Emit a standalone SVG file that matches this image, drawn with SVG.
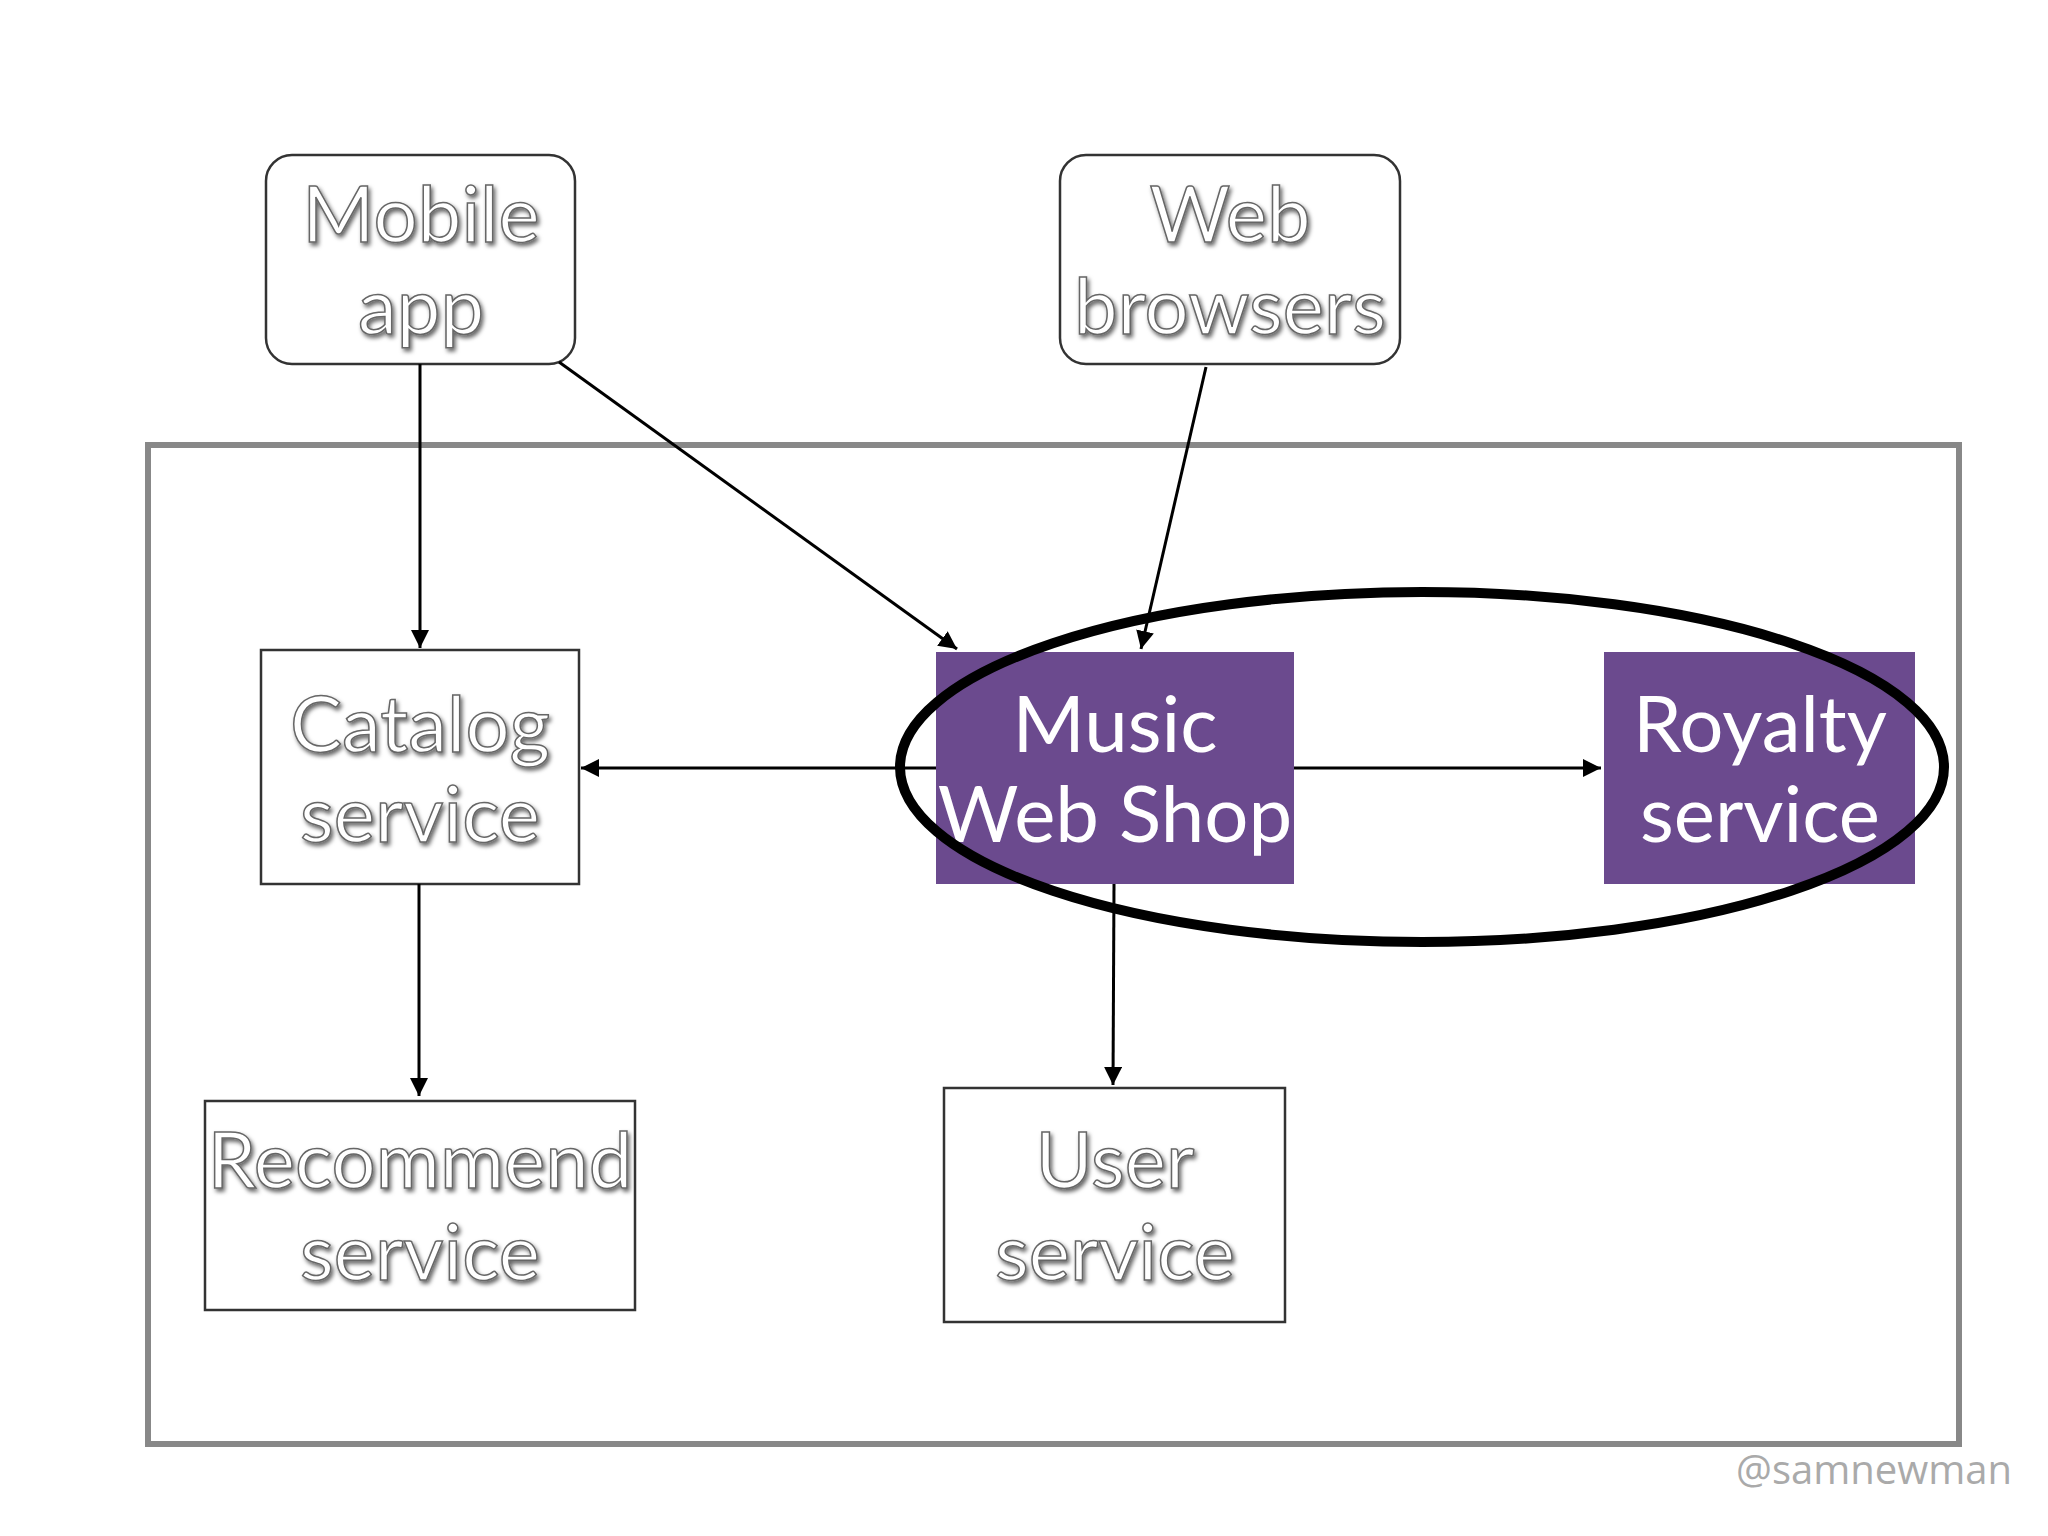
<svg xmlns="http://www.w3.org/2000/svg" width="2048" height="1536" viewBox="0 0 2048 1536">
<style>
.n{fill:#fff;stroke:#333;stroke-width:2.5}
.p{fill:#6b4a8e;stroke:none}
.t{font-family:Lato,"Open Sans",sans-serif;font-size:78px;text-anchor:middle;fill:#fff;stroke:#666;stroke-width:1.5;filter:url(#sh)}
.tp{font-family:Lato,"Open Sans",sans-serif;font-size:78px;text-anchor:middle;fill:#fff}
.c{stroke:#000;stroke-width:3;fill:none;marker-end:url(#a)}
</style>
<defs>
<marker id="a" viewBox="0 0 10 10" refX="10" refY="5" markerWidth="6" markerHeight="6" orient="auto"><path d="M0,0L10,5L0,10z" fill="#000"/></marker>
<filter id="sh" x="-10%" y="-20%" width="130%" height="150%"><feDropShadow dx="2" dy="3" stdDeviation="2" flood-color="#000" flood-opacity="0.6"/></filter>
</defs>
<rect width="2048" height="1536" fill="#fff"/>
<rect x="148" y="445" width="1811" height="999" fill="none" stroke="#888" stroke-width="6"/>
<g id="mobile"><rect class="n" x="266" y="155" width="309" height="209" rx="26"/><text class="t" x="421" y="242">Mobile</text><text class="t" x="421" y="334">app</text></g>
<g id="web"><rect class="n" x="1060" y="155" width="340" height="209" rx="26"/><text class="t" x="1230" y="242">Web</text><text class="t" x="1230" y="334">browsers</text></g>
<g id="catalog"><rect class="n" x="261" y="650" width="318" height="234"/><text class="t" x="420" y="752">Catalog</text><text class="t" x="420" y="842">service</text></g>
<g id="music"><rect class="p" x="936" y="652" width="358" height="232"/><text class="tp" x="1115" y="752">Music</text><text class="tp" x="1115" y="842">Web Shop</text></g>
<g id="royalty"><rect class="p" x="1604" y="652" width="311" height="232"/><text class="tp" x="1760" y="752">Royalty</text><text class="tp" x="1760" y="842">service</text></g>
<g id="recommend"><rect class="n" x="205" y="1101" width="430" height="209"/><text class="t" x="420" y="1188">Recommend</text><text class="t" x="420" y="1280">service</text></g>
<g id="user"><rect class="n" x="944" y="1088" width="341" height="234"/><text class="t" x="1115" y="1188">User</text><text class="t" x="1115" y="1280">service</text></g>
<g id="connectors">
<line class="c" x1="420" y1="364" x2="420" y2="648"/>
<line class="c" x1="559" y1="362" x2="957" y2="649"/>
<line class="c" x1="1206" y1="367" x2="1141" y2="649"/>
<line class="c" x1="936" y1="768" x2="581" y2="768"/>
<line class="c" x1="1294" y1="768" x2="1601" y2="768"/>
<line class="c" x1="419" y1="884" x2="419" y2="1096"/>
<line class="c" x1="1114" y1="884" x2="1113" y2="1085"/>
</g>
<ellipse cx="1422" cy="767" rx="522" ry="175" fill="none" stroke="#000" stroke-width="10"/>
<text x="2012" y="1484" font-family="'Open Sans',sans-serif" font-size="40" fill="#aaa" text-anchor="end">@samnewman</text>
</svg>
